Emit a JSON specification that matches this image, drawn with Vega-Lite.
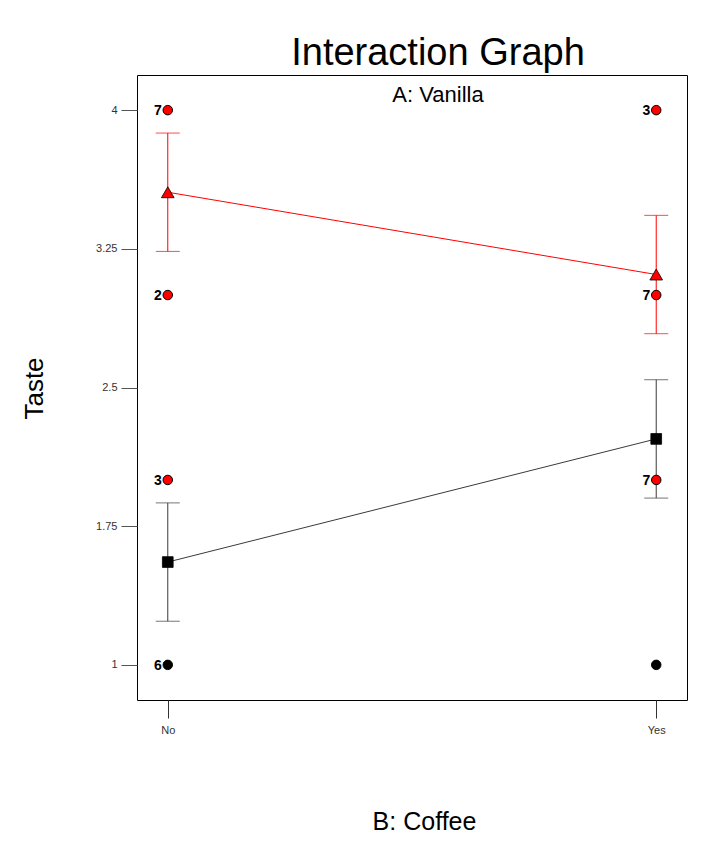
{
  "$schema": "https://vega.github.io/schema/vega-lite/v6.json",
  "width": 550,
  "height": 625,
  "autosize": {"type": "none"},
  "padding": {"left": 137, "top": 75, "right": 20, "bottom": 152},
  "background": "white",
  "title": {
    "text": "Interaction Graph",
    "subtitle": "A: Vanilla",
    "fontSize": 38,
    "fontWeight": "normal",
    "font": "Liberation Sans",
    "color": "black",
    "subtitleFontSize": 22,
    "subtitleFont": "Liberation Sans",
    "subtitleColor": "black",
    "subtitlePadding": 12,
    "anchor": "middle",
    "frame": "group",
    "offset": -31,
    "dx": 26
  },
  "config": {
    "font": "Liberation Sans",
    "view": {"stroke": "black", "strokeWidth": 1},
    "axis": {"grid": false, "domain": false}
  },
  "datasets": {
    "means": [
      {"coffee": "No", "vanilla": "High", "mean": 3.556, "lo": 3.236, "hi": 3.876},
      {"coffee": "Yes", "vanilla": "High", "mean": 3.111, "lo": 2.791, "hi": 3.431},
      {"coffee": "No", "vanilla": "Low", "mean": 1.556, "lo": 1.236, "hi": 1.876},
      {"coffee": "Yes", "vanilla": "Low", "mean": 2.222, "lo": 1.902, "hi": 2.542}
    ],
    "runs": [
      {"coffee": "No", "vanilla": "High", "taste": 4, "count": "7"},
      {"coffee": "No", "vanilla": "High", "taste": 3, "count": "2"},
      {"coffee": "No", "vanilla": "High", "taste": 2, "count": "3"},
      {"coffee": "No", "vanilla": "Low", "taste": 1, "count": "6"},
      {"coffee": "Yes", "vanilla": "High", "taste": 4, "count": "3"},
      {"coffee": "Yes", "vanilla": "High", "taste": 3, "count": "7"},
      {"coffee": "Yes", "vanilla": "High", "taste": 2, "count": "7"},
      {"coffee": "Yes", "vanilla": "Low", "taste": 1, "count": ""}
    ]
  },
  "layer": [
    {
      "data": {"name": "means"},
      "mark": {"type": "rule", "strokeWidth": 1},
      "encoding": {
        "x": {
          "field": "coffee",
          "type": "nominal",
          "sort": ["No", "Yes"],
          "scale": {"type": "point", "padding": 0.063},
          "axis": {
            "orient": "bottom",
            "labelAngle": 0,
            "ticks": true,
            "tickSize": 18,
            "tickColor": "#333",
            "labelFontSize": 11,
            "labelColor": "#333",
            "labelPadding": 6,
            "title": "B: Coffee",
            "titleFontSize": 25,
            "titleFontWeight": "normal",
            "titleColor": "black",
            "titleAlign": "center",
            "titleBaseline": "alphabetic",
            "titleX": 287,
            "titleY": 129
          }
        },
        "y": {
          "field": "lo",
          "type": "quantitative",
          "scale": {"domain": [0.81, 4.19], "nice": false, "zero": false},
          "axis": {
            "orient": "left",
            "values": [1, 1.75, 2.5, 3.25, 4],
            "labelExpr": "format(datum.value, '.3~g')",
            "ticks": true,
            "tickSize": 16,
            "tickColor": "#555",
            "labelFontSize": 11,
            "labelColor": "#333",
            "labelPadding": 4,
            "title": "Taste",
            "titleFontSize": 26,
            "titleFontWeight": "normal",
            "titleColor": "black",
            "titleAngle": -90,
            "titleAlign": "center",
            "titleBaseline": "alphabetic",
            "titleX": -95,
            "titleY": 313
          }
        },
        "y2": {"field": "hi"},
        "stroke": {
          "field": "vanilla",
          "type": "nominal",
          "scale": {"domain": ["High", "Low"], "range": ["#FF0000", "#3a3a3a"]},
          "legend": null
        }
      }
    },
    {
      "data": {"name": "means"},
      "mark": {"type": "tick", "orient": "horizontal", "size": 24, "thickness": 1},
      "encoding": {
        "x": {"field": "coffee", "type": "nominal", "sort": ["No", "Yes"]},
        "y": {"field": "lo", "type": "quantitative"},
        "color": {
          "field": "vanilla",
          "type": "nominal",
          "scale": {"domain": ["High", "Low"], "range": ["#FF0000", "#3a3a3a"]},
          "legend": null
        }
      }
    },
    {
      "data": {"name": "means"},
      "mark": {"type": "tick", "orient": "horizontal", "size": 24, "thickness": 1},
      "encoding": {
        "x": {"field": "coffee", "type": "nominal", "sort": ["No", "Yes"]},
        "y": {"field": "hi", "type": "quantitative"},
        "color": {"field": "vanilla", "type": "nominal", "legend": null}
      }
    },
    {
      "data": {"name": "means"},
      "mark": {"type": "line", "strokeWidth": 1},
      "encoding": {
        "x": {"field": "coffee", "type": "nominal", "sort": ["No", "Yes"]},
        "y": {"field": "mean", "type": "quantitative"},
        "stroke": {"field": "vanilla", "type": "nominal", "scale": {"domain": ["High", "Low"], "range": ["#FF0000", "#000000"]}, "legend": null}
      }
    },
    {
      "data": {"name": "means"},
      "mark": {"type": "point", "filled": true, "opacity": 1, "stroke": "black", "strokeWidth": 0.8},
      "encoding": {
        "x": {"field": "coffee", "type": "nominal", "sort": ["No", "Yes"]},
        "y": {"field": "mean", "type": "quantitative"},
        "fill": {
          "field": "vanilla",
          "type": "nominal",
          "scale": {"domain": ["High", "Low"], "range": ["#FF0000", "#000000"]},
          "legend": null
        },
        "shape": {
          "field": "vanilla",
          "type": "nominal",
          "scale": {"domain": ["High", "Low"], "range": ["triangle-up", "square"]},
          "legend": null
        },
        "size": {
          "field": "vanilla",
          "type": "nominal",
          "scale": {"domain": ["High", "Low"], "range": [160, 115]},
          "legend": null
        }
      }
    },
    {
      "data": {"name": "runs"},
      "mark": {"type": "point", "shape": "circle", "filled": true, "opacity": 1, "size": 90, "stroke": "black", "strokeWidth": 1},
      "encoding": {
        "x": {"field": "coffee", "type": "nominal", "sort": ["No", "Yes"]},
        "y": {"field": "taste", "type": "quantitative"},
        "fill": {"field": "vanilla", "type": "nominal", "legend": null}
      }
    },
    {
      "data": {"name": "runs"},
      "mark": {"type": "text", "align": "right", "baseline": "middle", "dx": -6, "dy": 1, "fontSize": 14, "fontWeight": "bold", "color": "black"},
      "encoding": {
        "x": {"field": "coffee", "type": "nominal", "sort": ["No", "Yes"]},
        "y": {"field": "taste", "type": "quantitative"},
        "text": {"field": "count"}
      }
    }
  ]
}
